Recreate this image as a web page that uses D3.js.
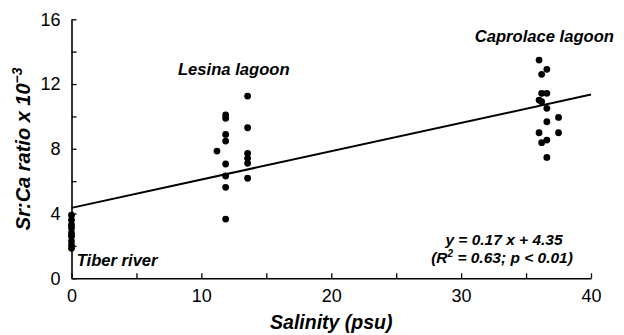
<!DOCTYPE html>
<html>
<head>
<meta charset="utf-8">
<script src="https://cdn.jsdelivr.net/npm/d3@7"></script>
<style>
  html, body { margin: 0; padding: 0; background: #fff; }
  svg { display: block; font-family: "Liberation Sans", Arial, sans-serif; }
</style>
</head>
<body>
<svg id="chart" width="624" height="335"></svg>
<script>
// ---- data ----
const tiberSalinity = [0, 0, 0, 0, 0, 0, 0, 0, 0];
const tiberSrCa     = [3.9, 3.6, 3.3, 3.1, 2.8, 2.6, 2.3, 2.05, 1.85];

const lesinaSalinity = [11.87, 11.87, 11.87, 11.87, 11.87, 11.87, 11.87, 11.87, 11.2, 13.56, 13.56, 13.56, 13.56, 13.56, 13.56];
const lesinaSrCa     = [10.09, 9.88, 8.89, 8.48, 7.06, 6.32, 5.62, 3.66, 7.86, 11.26, 9.30, 7.72, 7.41, 7.10, 6.18];

const caprolaceSalinity = [36.0, 36.6, 36.2, 36.2, 36.6, 36.0, 36.2, 36.6, 36.6, 37.5, 36.0, 36.2, 36.6, 37.5, 36.6];
const caprolaceSrCa     = [13.48, 12.91, 12.60, 11.43, 11.43, 11.01, 10.91, 10.50, 9.67, 9.94, 8.99, 8.38, 8.54, 8.99, 7.47];

const fitIntercept = 4.35;
const fitSlope = 0.175;
const fitRange = [0, 40];

const xTicks = [0, 5, 10, 15, 20, 25, 30, 35, 40];
const xTickLabels = [0, 10, 20, 30, 40];
const yTicks = [0, 2, 4, 6, 8, 10, 12, 14, 16];
const yTickLabels = [0, 4, 8, 12, 16];

const siteLabels = [
  { text: "Tiber river", x: 0.4, y: 0.75 },
  { text: "Lesina lagoon", x: 8.2, y: 12.55 },
  { text: "Caprolace lagoon", x: 31.05, y: 14.6 }
];

// ---- chart ----
const svg = d3.select("#chart");
const x = d3.scaleLinear().domain([0, 40]).range([71.5, 591]);
const y = d3.scaleLinear().domain([0, 16]).range([278.3, 19.3]);

// axes
const xAxis = d3.axisBottom(x)
  .tickValues(xTicks)
  .tickSize(-5)
  .tickSizeOuter(0)
  .tickPadding(11)
  .tickFormat(d => xTickLabels.includes(d) ? d : "");
const gx = svg.append("g").attr("transform", `translate(0,${y(0)})`).call(xAxis);

const yAxis = d3.axisLeft(y)
  .tickValues(yTicks)
  .tickSize(-5)
  .tickSizeOuter(0)
  .tickPadding(11)
  .tickFormat(d => yTickLabels.includes(d) ? d : "");
const gy = svg.append("g").attr("transform", `translate(${x(0)},0)`).call(yAxis);

[gx, gy].forEach(g => {
  g.select(".domain").attr("stroke", "#000").attr("stroke-width", 1.6);
  g.selectAll(".tick line").attr("stroke", "#000").attr("stroke-width", 1.3);
  g.selectAll(".tick text").attr("fill", "#000")
    .style("font-size", "18px").style("font-family", "'Liberation Sans', Arial, sans-serif");
});

// regression line
svg.append("line")
  .attr("x1", x(fitRange[0])).attr("y1", y(fitIntercept + fitSlope * fitRange[0]))
  .attr("x2", x(fitRange[1])).attr("y2", y(fitIntercept + fitSlope * fitRange[1]))
  .attr("stroke", "#000").attr("stroke-width", 2);

// points
const pts = [];
tiberSalinity.forEach((s, i) => pts.push([s, tiberSrCa[i]]));
lesinaSalinity.forEach((s, i) => pts.push([s, lesinaSrCa[i]]));
caprolaceSalinity.forEach((s, i) => pts.push([s, caprolaceSrCa[i]]));
svg.append("g").selectAll("circle").data(pts).join("circle")
  .attr("cx", d => x(d[0])).attr("cy", d => y(d[1])).attr("r", 3.4)
  .attr("fill", "#000");

// site labels
svg.append("g").selectAll("text").data(siteLabels).join("text")
  .attr("x", d => x(d.x)).attr("y", d => y(d.y))
  .attr("font-size", "16.6px").attr("font-weight", "bold").attr("font-style", "italic")
  .attr("fill", "#000")
  .text(d => d.text);

// equation
const eq = svg.append("text")
  .attr("x", 504).attr("y", 245)
  .attr("text-anchor", "middle")
  .attr("font-size", "15.5px").attr("font-weight", "bold").attr("font-style", "italic");
eq.text("y = 0.17 x + 4.35");
const eq2 = svg.append("text")
  .attr("x", 502).attr("y", 263)
  .attr("text-anchor", "middle")
  .attr("font-size", "15.5px").attr("font-weight", "bold").attr("font-style", "italic");
eq2.append("tspan").text("(R");
eq2.append("tspan").attr("font-size", "10px").attr("dy", "-6").text("2");
eq2.append("tspan").attr("dy", "6").text(" = 0.63; p < 0.01)");

// axis titles
svg.append("text")
  .attr("x", (x(0) + x(40)) / 2).attr("y", 329)
  .attr("text-anchor", "middle")
  .attr("font-size", "19.5px").attr("font-weight", "bold").attr("font-style", "italic")
  .text("Salinity (psu)");

const yt = svg.append("text")
  .attr("transform", `translate(30,${(y(0) + y(16)) / 2}) rotate(-90)`)
  .attr("text-anchor", "middle")
  .attr("font-size", "20px").attr("font-weight", "bold").attr("font-style", "italic");
yt.append("tspan").text("Sr:Ca ratio x 10");
yt.append("tspan").attr("font-size", "14px").attr("dy", "-8").text("−3");
</script>
</body>
</html>
